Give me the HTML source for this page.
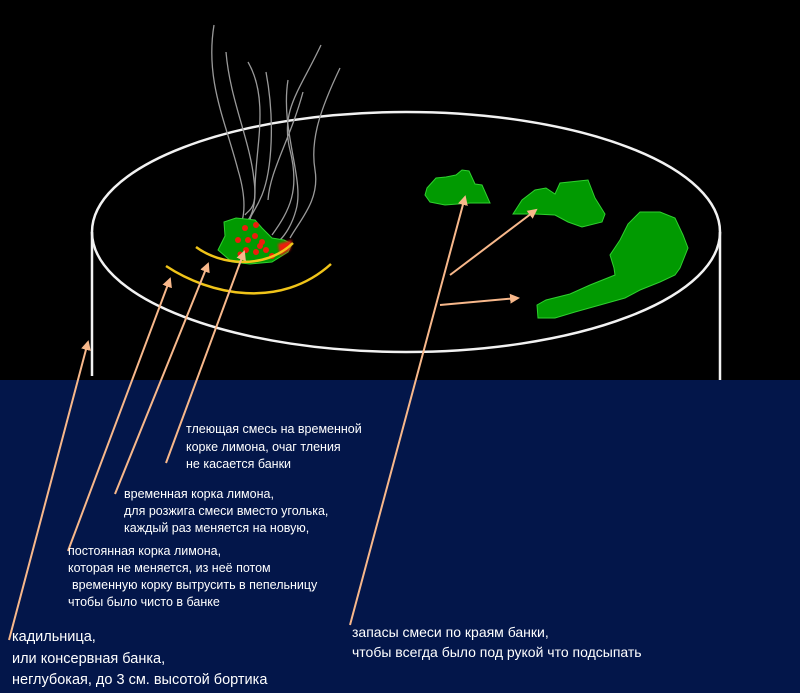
<!DOCTYPE html>
<html><head><meta charset="utf-8"><style>
html,body{margin:0;padding:0;background:#000;}
svg{display:block}
text{font-family:"Liberation Sans","DejaVu Sans",sans-serif;fill:#fff;}
</style></head><body>
<svg width="800" height="693" viewBox="0 0 800 693" xmlns="http://www.w3.org/2000/svg">
<defs>
<marker id="a" markerWidth="10" markerHeight="10" refX="8" refY="5" orient="auto" markerUnits="userSpaceOnUse">
<path d="M0,0 L10,5 L0,10 z" fill="#f8b88b"/></marker>
<filter id="b"><feGaussianBlur stdDeviation="1.2"/></filter>
</defs>
<rect x="0" y="0" width="800" height="380" fill="#000"/>
<rect x="0" y="380" width="800" height="313" fill="#03164a"/>
<!-- can -->
<ellipse cx="406" cy="232" rx="314" ry="120" fill="none" stroke="#f2f2f2" stroke-width="2.5"/>
<line x1="92" y1="232" x2="92" y2="376" stroke="#f2f2f2" stroke-width="2.5"/>
<line x1="720" y1="232" x2="720" y2="380" stroke="#f2f2f2" stroke-width="2.5"/>
<!-- smoke -->
<g fill="none" stroke="#9a9a9a" stroke-width="1.3">
<path d="M214,25 C205,80 225,120 238,170 C250,210 240,230 240,218"/>
<path d="M226,52 C230,100 250,140 254,180 C258,210 248,210 245,215"/>
<path d="M248,62 C270,100 255,150 255,190 C255,205 252,215 248,220"/>
<path d="M266,72 C275,120 272,170 262,195 C255,212 250,215 250,220"/>
<path d="M288,80 C280,130 305,180 296,210 C292,225 285,235 280,240"/>
<path d="M321,45 C300,90 280,110 290,150 C300,190 290,210 272,235"/>
<path d="M340,68 C320,110 310,140 315,170 C320,200 300,220 290,238"/>
<path d="M303,92 C290,140 270,170 268,200"/>
</g>
<!-- green blob with embers -->
<path d="M218,250 L225,236 L224,222 L236,218 L255,220 L262,228 L272,238 L284,240 L292,244 L288,252 L272,262 L250,264 L232,262 Z" fill="#019a01" stroke="#2fd02f" stroke-width="1"/>
<g fill="#ee1c0c">
<circle cx="245" cy="228" r="3"/><circle cx="256" cy="225" r="3"/><circle cx="238" cy="240" r="3"/><circle cx="248" cy="240" r="3"/><circle cx="255" cy="236" r="3"/><circle cx="262" cy="242" r="3"/><circle cx="246" cy="250" r="3"/><circle cx="256" cy="252" r="3"/><circle cx="266" cy="250" r="3"/><circle cx="272" cy="256" r="3"/><circle cx="240" cy="254" r="2.5"/><circle cx="260" cy="246" r="3"/>
<path d="M278,244 L292,240 L290,250 L280,256 Z" filter="url(#b)"/>
</g>
<!-- yellow arcs -->
<path d="M196,247 C220,265 265,270 293,243" fill="none" stroke="#f0c419" stroke-width="2.5"/>
<path d="M166,266 C210,295 280,310 331,264" fill="none" stroke="#f0c419" stroke-width="2.5"/>
<!-- green stocks -->
<path d="M427,188 L436,178 L446,177 L456,175 L462,170 L469,171 L475,184 L482,185 L490,203 L470,203 L445,205 L430,202 L425,195 Z" fill="#019a01" stroke="#2fd02f" stroke-width="1"/>
<path d="M513,214 L522,200 L535,190 L546,188 L555,194 L560,183 L588,180 L595,198 L600,206 L605,214 L602,222 L582,227 L568,222 L555,215 L535,214 Z" fill="#019a01" stroke="#2fd02f" stroke-width="1"/>
<path d="M537,305 L546,300 L570,294 L590,285 L615,275 L614,268 L610,255 L620,240 L628,224 L640,212 L660,212 L675,218 L683,235 L688,248 L680,268 L675,275 L660,282 L640,290 L625,298 L600,305 L575,312 L555,318 L538,318 Z" fill="#019a01" stroke="#2fd02f" stroke-width="1"/>
<!-- arrows -->
<g stroke="#f8b88b" stroke-width="2" fill="none" marker-end="url(#a)">
<line x1="9" y1="640" x2="88" y2="342"/>
<line x1="68" y1="551" x2="170" y2="279"/>
<line x1="115" y1="494" x2="208" y2="264"/>
<line x1="166" y1="463" x2="244" y2="252"/>
<line x1="350" y1="625" x2="465" y2="197"/>
<line x1="450" y1="275" x2="536" y2="210"/>
<line x1="440" y1="305" x2="518" y2="298"/>
</g>
<!-- labels -->
<g font-size="12.5">
<text x="186" y="433">тлеющая смесь на временной</text>
<text x="186" y="451">корке лимона, очаг тления</text>
<text x="186" y="468">не касается банки</text>
<text x="124" y="498">временная корка лимона,</text>
<text x="124" y="515">для розжига смеси вместо уголька,</text>
<text x="124" y="532">каждый раз меняется на новую,</text>
<text x="68" y="555">постоянная корка лимона,</text>
<text x="68" y="572">которая не меняется, из неё потом</text>
<text x="72" y="589">временную корку вытрусить в пепельницу</text>
<text x="68" y="606">чтобы было чисто в банке</text>
</g>
<g font-size="14.5">
<text x="12" y="641">кадильница,</text>
<text x="12" y="663">или консервная банка,</text>
<text x="12" y="684">неглубокая, до 3 см. высотой бортика</text>
</g>
<g font-size="14">
<text x="352" y="637">запасы смеси по краям банки,</text>
<text x="352" y="657">чтобы всегда было под рукой что подсыпать</text>
</g>
</svg>
</body></html>
